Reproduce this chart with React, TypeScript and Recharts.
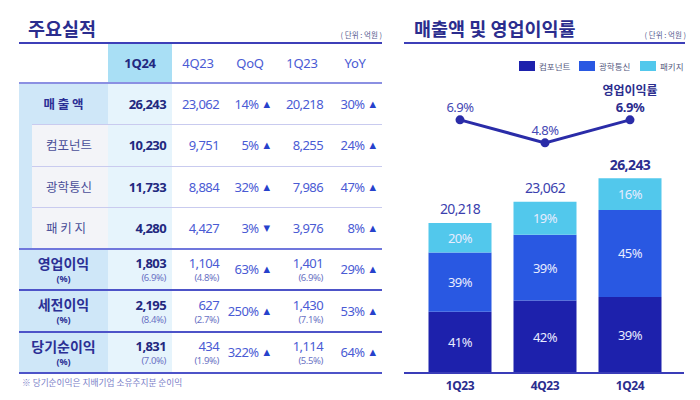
import React from 'react';
import { ComposedChart, Bar, Line, XAxis, YAxis, LabelList } from 'recharts';

// chart data
const quarters = ['1Q23', '4Q23', '1Q24'];
const componentSales = [8255, 9751, 10230];
const opticalSales = [7986, 8884, 11733];
const packageSales = [3976, 4427, 4280];
const totalSales = [20218, 23062, 26243];
const opMargin = [6.9, 4.8, 6.9];

// table data
const tableHeads = ['1Q24', '4Q23', 'QoQ', '1Q23', 'YoY'];
const rowLabels = ['매 출 액', '컴포넌트', '광학통신', '패 키 지', '영업이익', '세전이익', '당기순이익'];
const cur1Q24 = [26243, 10230, 11733, 4280, 1803, 2195, 1831];
const prev4Q23 = [23062, 9751, 8884, 4427, 1104, 627, 434];
const qoqPct = [14, 5, 32, -3, 63, 250, 322];
const prev1Q23 = [20218, 8255, 7986, 3976, 1401, 1430, 1114];
const yoyPct = [30, 24, 47, 8, 29, 53, 64];
const margin1Q24 = [null, null, null, null, 6.9, 8.4, 7.0];
const margin4Q23 = [null, null, null, null, 4.8, 2.7, 1.9];
const margin1Q23 = [null, null, null, null, 6.9, 7.1, 5.5];

const NAVY = '#2b2d8e';
const BLUE_TXT = '#4a5bd4';
const KR = "'Noto Sans CJK KR', 'Noto Sans', sans-serif";
const NUM = "'Noto Sans', 'Noto Sans CJK KR', sans-serif";
const TIGHT = -0.6;

const C_COMP = '#1d21ac';
const C_OPT = '#2958e2';
const C_PKG = '#52c8ec';

const colX = [19, 108, 172, 224, 276, 328, 382];
const HEAD_TOP = 43;
const BODY_TOP = 83;
const ROW_H = 41.43;

const fmt = (v: number) => v.toLocaleString('en-US');

const chartData = quarters.map((q, i) => ({
  q,
  comp: componentSales[i],
  opt: opticalSales[i],
  pkg: packageSales[i],
  margin: opMargin[i],
}));

const abs = (s: React.CSSProperties): React.CSSProperties => ({ position: 'absolute', ...s });

function ValueCell({ col, row, value, sub, bold }: any) {
  const top = BODY_TOP + row * ROW_H;
  return (
    <div
      style={abs({
        left: colX[col],
        top,
        width: colX[col + 1] - colX[col] - (col === 1 ? 6 : 5),
        height: ROW_H,
        display: 'flex',
        flexDirection: 'column',
        alignItems: 'flex-end',
        justifyContent: 'center',
      })}
    >
      <div
        style={{
          fontFamily: NUM,
          fontSize: 13,
          lineHeight: '18px',
          letterSpacing: TIGHT,
          color: bold ? '#22287f' : BLUE_TXT,
          fontWeight: bold ? 700 : 400,
        }}
      >
        {value}
      </div>
      {sub != null && (
        <div style={{ fontFamily: NUM, fontSize: 9.5, lineHeight: '12px', letterSpacing: -0.4, color: '#6a72c4' }}>
          ({sub.toFixed(1)}%)
        </div>
      )}
    </div>
  );
}

function ChangeCell({ col, row, pct }: any) {
  const top = BODY_TOP + row * ROW_H;
  return (
    <div
      style={abs({
        left: colX[col],
        top,
        width: colX[col + 1] - colX[col] - 6,
        height: ROW_H,
        display: 'flex',
        alignItems: 'center',
        justifyContent: 'flex-end',
      })}
    >
      <span style={{ fontFamily: NUM, fontSize: 13, letterSpacing: TIGHT, color: BLUE_TXT }}>{Math.abs(pct)}%</span>
      <span style={{ fontFamily: 'DejaVu Sans', fontSize: 8.5, color: '#2641cc', marginLeft: 5 }}>{pct < 0 ? '▼' : '▲'}</span>
    </div>
  );
}

function ResultTable() {
  const lines: React.ReactNode[] = [];
  lines.push(<div key="t" style={abs({ left: 19, top: 42, width: 363, height: 2, background: '#3d3fb8' })} />);
  lines.push(<div key="h" style={abs({ left: 19, top: 82, width: 363, height: 2, background: '#8b90e2' })} />);
  [1, 2, 3].forEach((r) =>
    lines.push(
      <div key={'s' + r} style={abs({ left: 32, top: BODY_TOP + r * ROW_H, width: 350, height: 1, background: '#c9cbef' })} />
    )
  );
  [4, 5, 6, 7].forEach((r) =>
    lines.push(
      <div
        key={'m' + r}
        style={abs({ left: 19, top: BODY_TOP + r * ROW_H - 1, width: 363, height: 2, background: r === 4 ? '#7077dc' : '#4d53c8' })}
      />
    )
  );

  return (
    <>
      {/* backgrounds */}
      <div style={abs({ left: 19, top: BODY_TOP, width: 89, height: 7 * ROW_H, background: '#cfe7f8' })} />
      <div style={abs({ left: 108, top: HEAD_TOP, width: 64, height: 40, background: '#a9dff5' })} />
      <div style={abs({ left: 108, top: BODY_TOP, width: 64, height: 7 * ROW_H, background: '#e6f4fc' })} />
      <div style={abs({ left: 32, top: BODY_TOP + ROW_H, width: 76, height: 3 * ROW_H, background: '#f3f4f8' })} />
      {lines}

      {/* header */}
      {tableHeads.map((h, i) => (
        <div
          key={h + i}
          style={abs({
            left: colX[i + 1],
            top: HEAD_TOP,
            width: colX[i + 2] - colX[i + 1],
            height: 40,
            lineHeight: '40px',
            textAlign: 'center',
            fontFamily: NUM,
            fontSize: 13,
            letterSpacing: -0.3,
            fontWeight: i === 0 ? 700 : 400,
            color: i === 0 ? '#22287f' : BLUE_TXT,
          })}
        >
          {h}
        </div>
      ))}

      {/* row labels */}
      {rowLabels.map((lab, r) => {
        const isSub = r >= 1 && r <= 3;
        const hasPct = r >= 4;
        return (
          <div
            key={lab}
            style={abs({
              left: isSub ? 46 : 19,
              top: BODY_TOP + r * ROW_H,
              width: isSub ? 62 : 89,
              height: ROW_H,
              display: 'flex',
              flexDirection: 'column',
              alignItems: isSub ? 'flex-start' : 'center',
              justifyContent: 'center',
              fontFamily: KR,
            })}
          >
            <div
              style={{
                fontSize: isSub ? 12.5 : r === 0 ? 12.5 : 14,
                lineHeight: hasPct ? '19px' : '18px',
                fontWeight: isSub ? 400 : 700,
                color: isSub ? '#4a4f98' : '#2b2f95',
                whiteSpace: 'pre',
              }}
            >
              {lab}
            </div>
            {hasPct && (
              <div style={{ fontFamily: NUM, fontSize: 9, lineHeight: '12px', color: '#2b2f95', fontWeight: 700 }}>(%)</div>
            )}
          </div>
        );
      })}

      {/* values */}
      {rowLabels.map((_, r) => (
        <React.Fragment key={'v' + r}>
          <ValueCell col={1} row={r} value={fmt(cur1Q24[r])} sub={margin1Q24[r]} bold />
          <ValueCell col={2} row={r} value={fmt(prev4Q23[r])} sub={margin4Q23[r]} />
          <ChangeCell col={3} row={r} pct={qoqPct[r]} />
          <ValueCell col={4} row={r} value={fmt(prev1Q23[r])} sub={margin1Q23[r]} />
          <ChangeCell col={5} row={r} pct={yoyPct[r]} />
        </React.Fragment>
      ))}
    </>
  );
}

const shareLabel = (series: number[]) => (props: any) => {
  const { x, y, width, height, index } = props;
  const pct = Math.round((series[index] / totalSales[index]) * 100);
  return (
    <text
      x={x + width / 2}
      y={y + height / 2}
      textAnchor="middle"
      dominantBaseline="central"
      fill="#e8ecff"
      fontSize={13}
      letterSpacing={-0.5}
      fontFamily={NUM}
    >
      {pct}%
    </text>
  );
};

const totalLabel = (props: any) => {
  const { x, y, width, index } = props;
  const last = index === totalSales.length - 1;
  return (
    <text
      x={x + width / 2}
      y={y - 14}
      textAnchor="middle"
      dominantBaseline="central"
      fill={last ? NAVY : '#3b3fae'}
      fontWeight={last ? 700 : 400}
      fontSize={14}
      letterSpacing={TIGHT}
      fontFamily={NUM}
    >
      {fmt(totalSales[index])}
    </text>
  );
};

const marginLabel = (props: any) => {
  const { x, y, index } = props;
  const last = index === opMargin.length - 1;
  return (
    <g>
      {last && (
        <text x={x} y={y - 30} textAnchor="middle" dominantBaseline="central" fill={NAVY} fontWeight={700} fontSize={12} fontFamily={KR}>
          영업이익률
        </text>
      )}
      <text
        x={x}
        y={y - 13}
        textAnchor="middle"
        dominantBaseline="central"
        fill={last ? NAVY : '#4448b4'}
        fontWeight={last ? 700 : 400}
        fontSize={13}
        letterSpacing={-0.5}
        fontFamily={NUM}
      >
        {opMargin[index].toFixed(1)}%
      </text>
    </g>
  );
};

const legendItems = [
  { name: '컴포넌트', color: C_COMP, x: 519 },
  { name: '광학통신', color: C_OPT, x: 579 },
  { name: '패키지', color: C_PKG, x: 640 },
];

export default function App() {
  return (
    <div style={abs({ left: 0, top: 0, width: 700, height: 400, background: '#fff', overflow: 'hidden', fontFamily: KR })}>
      {/* titles */}
      <div style={abs({ left: 28, top: 16, fontSize: 18.5, lineHeight: '24px', fontWeight: 700, color: NAVY })}>주요실적</div>
      <div style={abs({ left: 300, width: 82, top: 30, fontSize: 7.5, lineHeight: '10px', textAlign: 'right', color: '#555a90' })}>
        ( 단위 : 억원 )
      </div>
      <div style={abs({ left: 414, top: 16, fontSize: 18.5, lineHeight: '24px', fontWeight: 700, color: NAVY })}>매출액 및 영업이익률</div>
      <div style={abs({ left: 600, width: 86, top: 30, fontSize: 7.5, lineHeight: '10px', textAlign: 'right', color: '#555a90' })}>
        ( 단위 : 억원 )
      </div>
      <div style={abs({ left: 404, top: 42, width: 281, height: 2, background: '#3d3fb8' })} />

      <ResultTable />

      <div style={abs({ left: 22, top: 377, fontSize: 8.7, lineHeight: '12px', color: '#7a80c8' })}>
        ※ 당기순이익은 지배기업 소유주지분 순이익
      </div>

      {/* legend */}
      {legendItems.map((it) => (
        <div key={it.name} style={abs({ left: it.x, top: 60, height: 12, display: 'flex', alignItems: 'center' })}>
          <div style={{ width: 16, height: 10, background: it.color }} />
          <span style={{ fontSize: 8.5, color: '#555a80', marginLeft: 4 }}>{it.name}</span>
        </div>
      ))}

      <div style={abs({ left: 400, top: 0 })}>
        <ComposedChart width={290} height={400} data={chartData} margin={{ top: 76, right: 6, bottom: 0, left: 4 }}>
          <XAxis
            dataKey="q"
            height={27}
            padding={{ left: 13.5, right: 11.5 }}
            axisLine={{ stroke: '#3a3cb8', strokeWidth: 2 }}
            tickLine={false}
            tick={{ fill: NAVY, fontSize: 12, fontWeight: 700, fontFamily: NUM, letterSpacing: -0.4 }}
          />
          <YAxis yAxisId="l" hide domain={[0, 40000]} />
          <YAxis yAxisId="r" hide orientation="right" domain={[-16.2, 10.9]} />
          <Bar yAxisId="l" dataKey="comp" stackId="s" fill={C_COMP} barSize={63} isAnimationActive={false}>
            <LabelList dataKey="comp" content={shareLabel(componentSales)} />
          </Bar>
          <Bar yAxisId="l" dataKey="opt" stackId="s" fill={C_OPT} barSize={63} isAnimationActive={false}>
            <LabelList dataKey="opt" content={shareLabel(opticalSales)} />
          </Bar>
          <Bar yAxisId="l" dataKey="pkg" stackId="s" fill={C_PKG} barSize={63} isAnimationActive={false}>
            <LabelList dataKey="pkg" content={shareLabel(packageSales)} />
            <LabelList dataKey="pkg" content={totalLabel} />
          </Bar>
          <Line
            yAxisId="r"
            dataKey="margin"
            stroke="#2a2ca8"
            strokeWidth={3}
            dot={{ r: 4.5, fill: '#2a2ca8', stroke: '#2a2ca8', strokeWidth: 0 }}
            isAnimationActive={false}
          >
            <LabelList dataKey="margin" content={marginLabel} />
          </Line>
        </ComposedChart>
      </div>
    </div>
  );
}
